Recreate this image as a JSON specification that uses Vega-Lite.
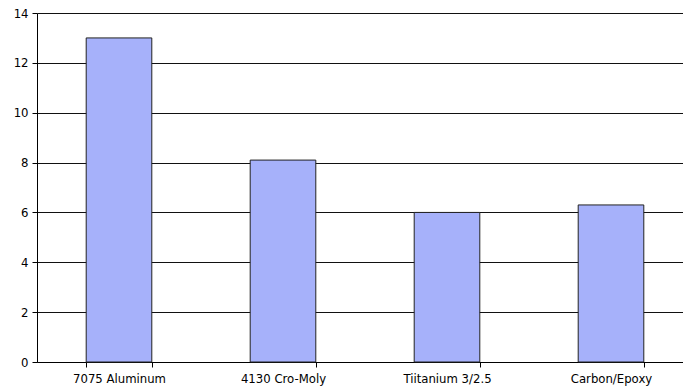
{
  "$schema": "https://vega.github.io/schema/vega-lite/v6.json",
  "autosize": "none",
  "padding": {"left": 37, "top": 13, "right": 0, "bottom": 28},
  "width": 656,
  "height": 349,
  "background": "white",
  "config": {
    "view": {"stroke": null},
    "axis": {"labelFont": "DejaVu Sans", "labelFontSize": 11.7, "labelColor": "#000000", "domainColor": "#000000", "tickColor": "#000000", "gridColor": "#111111", "gridOpacity": 1}
  },
  "data": {
    "values": [
      {"material": "7075 Aluminum", "value": 13},
      {"material": "4130 Cro-Moly", "value": 8.1},
      {"material": "Tiitanium 3/2.5", "value": 6},
      {"material": "Carbon/Epoxy", "value": 6.3}
    ]
  },
  "mark": {"type": "bar", "fill": "#a6b1fa", "stroke": "#222222", "strokeWidth": 1},
  "encoding": {
    "x": {
      "field": "material", "type": "nominal", "sort": null,
      "scale": {"paddingInner": 0.6, "paddingOuter": 0.3},
      "axis": {"title": null, "labelAngle": 0, "tickBand": "extent", "tickSize": 5, "labelPadding": 6, "domainWidth": 1}
    },
    "y": {
      "field": "value", "type": "quantitative",
      "scale": {"domain": [0, 14], "nice": false},
      "axis": {"title": null, "values": [0, 2, 4, 6, 8, 10, 12, 14], "tickSize": 5, "labelPadding": 4, "grid": true}
    }
  }
}
